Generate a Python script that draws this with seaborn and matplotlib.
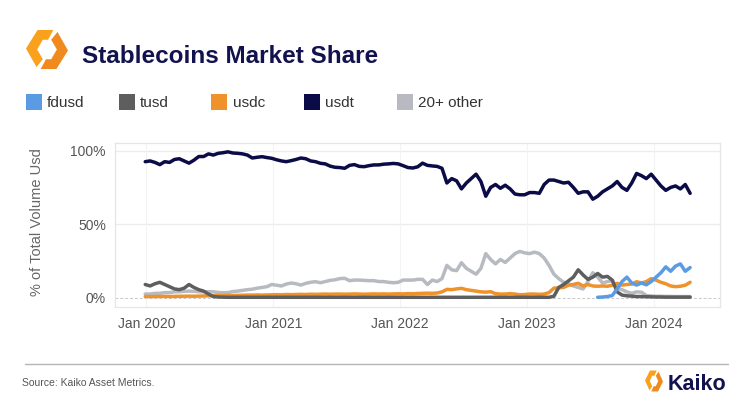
import numpy as np
import pandas as pd
import matplotlib
matplotlib.use("Agg")
import matplotlib.pyplot as plt
from matplotlib.patches import Rectangle, Polygon
from matplotlib.lines import Line2D
import seaborn as sns

# ---------------- data (bi-weekly market share, %) ----------------
dates = pd.date_range("2019-12-29", periods=113, freq="14D")

usdt = [92.5, 93, 92, 90.5, 92.5, 92, 94, 94.5, 93, 91.5,
        93.5, 96, 96, 97.8, 97, 98.2, 98.6, 99.2, 98.4, 98.2,
        97.8, 97, 95, 95.5, 95.9, 95.3, 94.8, 93.8, 93, 92.5,
        93.2, 94, 95, 94.5, 93, 92.5, 91.4, 91, 89.5, 88.7,
        88.5, 88, 90, 90.5, 89.3, 89.1, 89.8, 90.3, 90.3, 90.8,
        91, 91.3, 91, 89.8, 88.5, 88.2, 89, 91.5, 90, 89.6,
        89.3, 88, 78, 81, 79.5, 74, 78, 81, 84, 79,
        69, 75, 77, 74.4, 76.5, 74, 70.5, 70, 70, 71.5,
        71.5, 71, 77, 80, 80, 79, 78, 78.5, 75, 71,
        72, 72, 67, 69, 72, 74, 76, 79, 75, 73,
        78, 84.5, 83, 81, 84, 80, 76, 73, 75, 76,
        74, 77, 71]

other = [2.5, 2.5, 3, 3, 3.5, 3.5, 4, 4.1, 4.3, 4.5,
         4.3, 4.1, 4, 4.1, 4, 3.6, 3.4, 3.5, 4.2, 4.5,
         5, 5.5, 5.8, 6.5, 7, 7.5, 9, 8.5, 8, 9.3,
         10, 9.5, 8.6, 9.8, 10.5, 10.9, 10.2, 11, 11.8, 12.2,
         13, 13.2, 11.6, 12, 12, 11.8, 11.6, 11.6, 11, 11,
         10.5, 10.2, 10.5, 12, 12, 12, 12.5, 12.5, 9, 12,
         11, 13, 22, 19, 18.4, 23.8, 20, 18, 16, 20,
         30, 26, 23, 26, 24, 27, 30, 31.5, 30.5, 30,
         31, 30, 27, 22, 16, 13, 10.5, 9.5, 8, 7,
         6, 11, 17, 14, 10, 11, 11.5, 6.5, 5.5, 4,
         3, 4, 3.8, 1.5, 1.2, 1, 1, 0.9, 0.9, 0.8,
         0.8, 0.8, 0.8]

tusd = [9, 8, 9.5, 10.5, 9, 7.5, 6, 5.5, 6.5, 9,
        7, 5.5, 4.5, 2.5, 0.8, 0.5, 0.4, 0.3, 0.3, 0.3,
        0.3, 0.3, 0.3, 0.3, 0.3, 0.3, 0.3, 0.3, 0.3, 0.3,
        0.3, 0.3, 0.3, 0.3, 0.3, 0.3, 0.3, 0.3, 0.3, 0.3,
        0.3, 0.3, 0.3, 0.3, 0.3, 0.3, 0.3, 0.3, 0.3, 0.3,
        0.3, 0.3, 0.3, 0.3, 0.3, 0.3, 0.3, 0.3, 0.3, 0.3,
        0.3, 0.3, 0.3, 0.3, 0.3, 0.3, 0.3, 0.3, 0.3, 0.3,
        0.3, 0.3, 0.3, 0.3, 0.3, 0.3, 0.3, 0.3, 0.3, 0.3,
        0.3, 0.3, 0.3, 0.3, 1, 7, 9, 11.5, 14, 19,
        15.5, 12.5, 14, 16.5, 14, 14.5, 12, 4, 1.8, 1.3,
        1.1, 0.8, 0.8, 0.7, 0.6, 0.5, 0.5, 0.4, 0.4, 0.4,
        0.4, 0.4, 0.4]

usdc = [0.8, 0.8, 0.8, 0.9, 0.9, 0.8, 0.9, 1.0, 1.0, 1.1,
        1.0, 1.1, 1.2, 1.3, 1.4, 1.5, 1.5, 1.6, 1.5, 1.6,
        1.7, 1.8, 1.8, 1.9, 1.8, 1.9, 2.0, 2.1, 2.0, 2.2,
        2.1, 2.2, 2.3, 2.2, 2.4, 2.3, 2.4, 2.5, 2.4, 2.5,
        2.5, 2.4, 2.5, 2.6, 2.5, 2.4, 2.5, 2.6, 2.5, 2.6,
        2.5, 2.6, 2.7, 2.6, 2.8, 2.7, 2.9, 3.0, 3.1, 3.0,
        3.2, 4.0, 5.7, 5.5, 6.0, 6.4, 5.5, 5.0, 4.5, 4.0,
        3.8, 4.1, 2.8, 2.5, 2.5, 2.8, 2.5, 2.0, 2.2, 2.5,
        2.5, 2.3, 2.5, 3.5, 6.5, 6.8, 7.0, 8.5, 9.0, 9.8,
        8.0, 9.0, 8.0, 7.8, 8.0, 7.8, 8.5, 9.8, 8.6, 9.0,
        9.3, 10.9, 10.0, 11.0, 13.0, 12.0, 10.5, 9.5, 8.0, 7.5,
        7.8, 8.5, 10.5]

# fdusd only exists for the last 20 bi-weekly points
fdusd = [0.3, 0.5, 0.8, 1.5, 6, 11, 14,
         10, 8.6, 10, 8.8, 11, 14, 17, 21, 18, 21.5,
         23, 18, 20.5]

series_names = ["fdusd", "tusd", "usdc", "usdt", "20+ other"]
series_colors = ["#5b9be3", "#5e5e5e", "#f0922c", "#0b0b47", "#b7bac0"]
draw_order = ["20+ other", "usdt", "usdc", "tusd", "fdusd"]
xtick_dates = ["2020-01-01", "2021-01-01", "2022-01-01", "2023-01-01", "2024-01-01"]
xtick_labels = ["Jan 2020", "Jan 2021", "Jan 2022", "Jan 2023", "Jan 2024"]
ytick_values = [0, 50, 100]
ytick_labels = ["0%", "50%", "100%"]

df = pd.concat([
    pd.DataFrame({"date": dates, "share": usdt, "coin": "usdt"}),
    pd.DataFrame({"date": dates, "share": other, "coin": "20+ other"}),
    pd.DataFrame({"date": dates, "share": tusd, "coin": "tusd"}),
    pd.DataFrame({"date": dates, "share": usdc, "coin": "usdc"}),
    pd.DataFrame({"date": dates[-len(fdusd):], "share": fdusd, "coin": "fdusd"}),
], ignore_index=True)

# ---------------- figure ----------------
sns.set_theme(style="white")
plt.rcParams["font.family"] = ["Liberation Sans", "DejaVu Sans"]

W, H = 750, 408
fig = plt.figure(figsize=(W / 100, H / 100), dpi=100)
fig.patch.set_facecolor("white")

def fx(x):
    return x / W

def fy(y):
    return 1 - y / H

ax = fig.add_axes([fx(115), fy(307), fx(720) - fx(115), fy(143) - fy(307)])

palette = dict(zip(series_names, series_colors))
sns.lineplot(data=df, x="date", y="share", hue="coin", hue_order=draw_order,
             palette=palette, linewidth=2.5, legend=False, ax=ax,
             estimator=None, solid_capstyle="round")

ax.set_xlim(pd.Timestamp("2019-10-03"), pd.Timestamp("2024-07-09"))
ax.set_ylim(-6.3, 105.2)

# grid
for v in [50, 100]:
    ax.axhline(v, color="#ececec", lw=1.0, zorder=0)
ax.axhline(0, color="#c8c8c8", lw=0.7, ls=(0, (3, 2)), zorder=0)
for d in xtick_dates:
    ax.axvline(pd.Timestamp(d), color="#f3f3f3", lw=0.8, zorder=0)

ax.set_xticks([pd.Timestamp(d) for d in xtick_dates])
ax.set_xticklabels(xtick_labels)
ax.set_yticks(ytick_values)
ax.set_yticklabels(ytick_labels)
ax.tick_params(axis="both", length=0, labelsize=10, labelcolor="#555555")
ax.tick_params(axis="y", pad=6.5)
ax.tick_params(axis="x", pad=7.5)
ax.set_xlabel("")
ax.set_ylabel("")
for s in ax.spines.values():
    s.set_color("#e6e6e6")
    s.set_linewidth(0.9)

fig.text(fx(37), fy(222), "% of Total Volume Usd", rotation=90, ha="center",
         va="center", fontsize=10.5, color="#666666")

# ---------------- header ----------------
def logo(cx, cy, rx, ry):
    left = [(0.3, -1.0), (-0.45, -1.0), (-1.0, -0.05), (-0.5, 0.9),
            (-0.2, 0.5), (-0.47, 0.0), (-0.2, -0.5), (0.05, -0.5)]
    right = [(-x, -y) for x, y in left]
    for pts, col in [(left, "#f9a11c"), (right, "#f08a1f")]:
        poly = Polygon([(fx(cx + x * rx), fy(cy + y * ry)) for x, y in pts],
                       closed=True, transform=fig.transFigure,
                       facecolor=col, edgecolor="none")
        fig.patches.append(poly)

logo(47, 49.5, 21, 19.5)
fig.text(fx(82), fy(63.3), "Stablecoins Market Share", fontsize=17.5,
         fontweight="bold", color="#11124e", ha="left", va="baseline")

legend_x = [26, 118.5, 211.5, 304, 397]
for x0, name, col in zip(legend_x, series_names, series_colors):
    fig.patches.append(Rectangle((fx(x0), fy(110)), 16 / W, 16 / H,
                                 transform=fig.transFigure, facecolor=col,
                                 edgecolor="none"))
    fig.text(fx(x0 + 21), fy(107.3), name, fontsize=11, color="#333333",
             ha="left", va="baseline")

# ---------------- footer ----------------
fig.add_artist(Line2D([fx(25), fx(728)], [fy(364), fy(364)],
                      transform=fig.transFigure, color="#b5b5b5", lw=1.0))
fig.text(fx(22), fy(386), "Source: Kaiko Asset Metrics.", fontsize=7.5,
         color="#555555", ha="left", va="baseline")
logo(654, 381, 9, 10.5)
fig.text(fx(668), fy(389.5), "Kaiko", fontsize=15.5, fontweight="bold",
         color="#11124e", ha="left", va="baseline")

fig.savefig("out.png", dpi=100, facecolor="white")
